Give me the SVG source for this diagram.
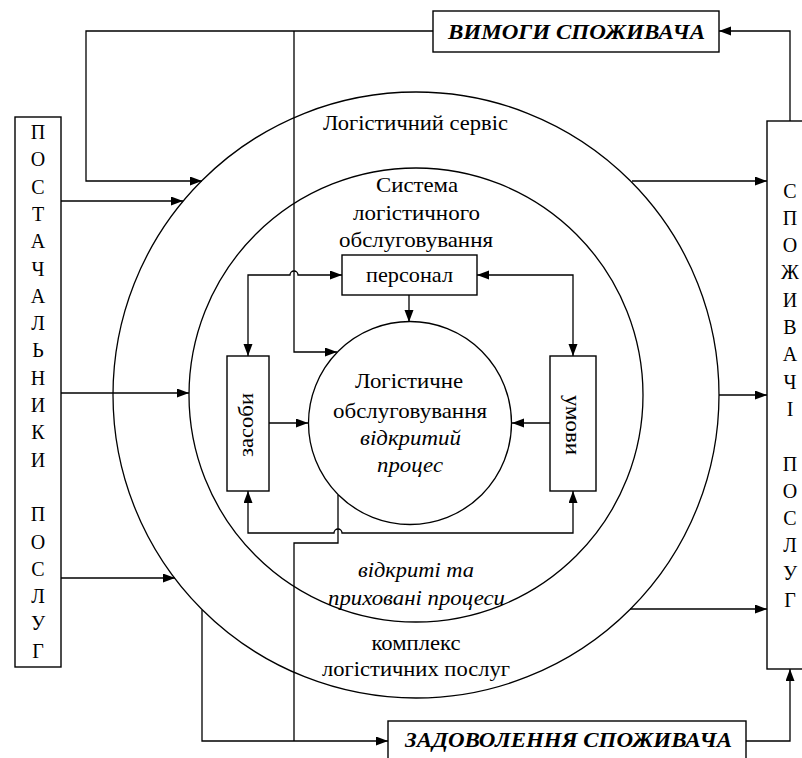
<svg xmlns="http://www.w3.org/2000/svg" width="802" height="758" viewBox="0 0 802 758" font-family="'Liberation Serif', 'Times New Roman', 'DejaVu Serif', serif">
<defs>
<marker id="ah" markerUnits="userSpaceOnUse" markerWidth="13" markerHeight="10" refX="12" refY="4.5" orient="auto-start-reverse">
<path d="M0,0 L12,4.5 L0,9 z" fill="#000"/>
</marker>
<style>
.ln{fill:none;stroke:#000;stroke-width:1.3}
.bx{fill:#fff;stroke:#000;stroke-width:1.4}
.ci{fill:none;stroke:#000;stroke-width:1.3}
text{font-family:'Liberation Serif','Times New Roman','DejaVu Serif',serif}
.t{font-size:21px;fill:#000;text-anchor:middle}
.i{font-style:italic}
.bi{font-style:italic;font-weight:bold;font-size:22px}
.v{font-size:20px;fill:#000;text-anchor:middle}
.a{marker-end:url(#ah)}
.aa{marker-start:url(#ah);marker-end:url(#ah)}
</style>
</defs>
<rect width="802" height="758" fill="#fff"/>

<g id="outer-circle">
<circle class="ci" cx="416" cy="395" r="303"/>
<text class="t" x="415.5" y="130" textLength="185" lengthAdjust="spacingAndGlyphs">Логістичний сервіс</text>
<text class="t" x="416" y="650" textLength="89" lengthAdjust="spacingAndGlyphs">комплекс</text>
<text class="t" x="416" y="676" textLength="188" lengthAdjust="spacingAndGlyphs">логістичних послуг</text>
</g>

<g id="system-circle">
<circle class="ci" cx="416" cy="395" r="227"/>
<text class="t" x="417" y="192" textLength="82" lengthAdjust="spacingAndGlyphs">Система</text>
<text class="t" x="416.5" y="220" textLength="127" lengthAdjust="spacingAndGlyphs">логістичного</text>
<text class="t" x="416" y="247" textLength="154" lengthAdjust="spacingAndGlyphs">обслуговування</text>
<text class="t i" x="416" y="577" textLength="116" lengthAdjust="spacingAndGlyphs">відкриті та</text>
<text class="t i" x="416.5" y="605" textLength="177" lengthAdjust="spacingAndGlyphs">приховані процеси</text>
</g>

<g id="connectors">
<path class="ln a" d="M433,31 H86 V181 H202"/>
<path class="ln a" d="M294,31 V352 H337"/>
<path class="ln a" d="M790,121 V31 H719"/>
<path class="ln a" d="M61,201 H183"/>
<path class="ln a" d="M61,393 H189"/>
<path class="ln a" d="M61,578 H175"/>
<path class="ln a" d="M632,181 H767"/>
<path class="ln a" d="M719,395 H767"/>
<path class="ln a" d="M630,609 H767"/>
<path class="ln a" d="M202,610 V741 H388"/>
<path class="ln" d="M338,495 V543 H294 V741"/>
<path class="ln a" d="M746,741 H790 V669"/>
<path class="ln aa" d="M248,356 V275 H290 A4,4 0 0 1 298,275 H342"/>
<path class="ln aa" d="M477,275 H573 V356"/>
<path class="ln a" d="M409,295 V322"/>
<path class="ln a" d="M269,423 H308"/>
<path class="ln a" d="M550,423 H512"/>
<path class="ln aa" d="M248,491 V533 H334 A4,4 0 0 1 342,533 H573 V491"/>
</g>

<g id="logistics-service">
<circle class="ci" cx="410" cy="423" r="101.5"/>
<text class="t" x="409" y="388" textLength="108" lengthAdjust="spacingAndGlyphs">Логістичне</text>
<text class="t" x="410" y="418" textLength="154" lengthAdjust="spacingAndGlyphs">обслуговування</text>
<text class="t i" x="410.5" y="445" textLength="101" lengthAdjust="spacingAndGlyphs">відкритий</text>
<text class="t i" x="410" y="472" textLength="66" lengthAdjust="spacingAndGlyphs">процес</text>
</g>

<g id="personnel">
<rect class="bx" x="342" y="255" width="135" height="40"/>
<text class="t" x="409.5" y="282" textLength="87" lengthAdjust="spacingAndGlyphs">персонал</text>
</g>

<g id="means">
<rect class="bx" x="227" y="356" width="42" height="135"/>
<text class="t" transform="translate(248,425) rotate(-90)" x="0" y="5" textLength="64" lengthAdjust="spacingAndGlyphs">засоби</text>
</g>

<g id="conditions">
<rect class="bx" x="550" y="356" width="46" height="135"/>
<text class="t" transform="translate(571,425) rotate(90)" x="0" y="5" textLength="60" lengthAdjust="spacingAndGlyphs">умови</text>
</g>

<g id="requirements">
<rect class="bx" x="433" y="11" width="286" height="41"/>
<text class="t bi" x="576.5" y="39" textLength="257" lengthAdjust="spacingAndGlyphs">ВИМОГИ СПОЖИВАЧА</text>
</g>

<g id="satisfaction">
<rect class="bx" x="388" y="721" width="358" height="50"/>
<text class="t bi" x="568.5" y="747" textLength="327" lengthAdjust="spacingAndGlyphs">ЗАДОВОЛЕННЯ СПОЖИВАЧА</text>
</g>

<g id="suppliers">
<rect class="bx" x="15" y="117" width="46" height="550"/>
<text class="v" x="38" y="139">
<tspan x="38" dy="0">П</tspan><tspan x="38" dy="27.3">О</tspan><tspan x="38" dy="27.3">С</tspan><tspan x="38" dy="27.3">Т</tspan><tspan x="38" dy="27.3">А</tspan><tspan x="38" dy="27.3">Ч</tspan><tspan x="38" dy="27.3">А</tspan><tspan x="38" dy="27.3">Л</tspan><tspan x="38" dy="27.3">Ь</tspan><tspan x="38" dy="27.3">Н</tspan><tspan x="38" dy="27.3">И</tspan><tspan x="38" dy="27.3">К</tspan><tspan x="38" dy="27.3">И</tspan><tspan x="38" dy="54.6">П</tspan><tspan x="38" dy="27.3">О</tspan><tspan x="38" dy="27.3">С</tspan><tspan x="38" dy="27.3">Л</tspan><tspan x="38" dy="27.3">У</tspan><tspan x="38" dy="27.3">Г</tspan>
</text>
</g>

<g id="consumers">
<rect class="bx" x="767" y="121" width="50" height="548"/>
<text class="v" x="790" y="197.5">
<tspan x="790" dy="0">С</tspan><tspan x="790" dy="27.3">П</tspan><tspan x="790" dy="27.3">О</tspan><tspan x="790" dy="27.3">Ж</tspan><tspan x="790" dy="27.3">И</tspan><tspan x="790" dy="27.3">В</tspan><tspan x="790" dy="27.3">А</tspan><tspan x="790" dy="27.3">Ч</tspan><tspan x="790" dy="27.3">І</tspan><tspan x="790" dy="54.6">П</tspan><tspan x="790" dy="27.3">О</tspan><tspan x="790" dy="27.3">С</tspan><tspan x="790" dy="27.3">Л</tspan><tspan x="790" dy="27.3">У</tspan><tspan x="790" dy="27.3">Г</tspan>
</text>
</g>
</svg>
